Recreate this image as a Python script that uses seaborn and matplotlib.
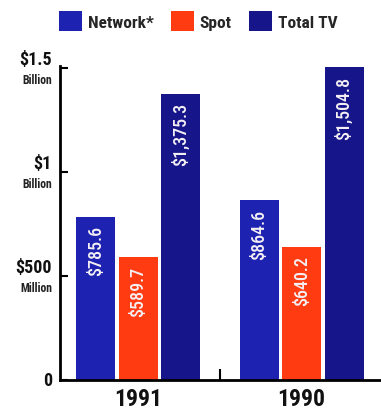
import matplotlib
matplotlib.use("Agg")
import matplotlib.pyplot as plt
import matplotlib.transforms as mtransforms
from matplotlib import font_manager
import seaborn as sns
import pandas as pd

years = ["1991", "1990"]
series = ["Network*", "Spot", "Total TV"]
network = [785.6, 864.6]
spot = [589.7, 640.2]
total = [1375.3, 1504.8]
value_labels = [["$785.6", "$589.7", "$1,375.3"], ["$864.6", "$640.2", "$1,504.8"]]
ytick_values = [0, 500, 1000, 1500]
ytick_main = ["0", "$500", "$1", "$1.5"]
ytick_sub = ["", "Million", "Billion", "Billion"]
colors = ["#1d22b0", "#ff3b12", "#16168a"]

rows = []
for i, y in enumerate(years):
    for s, vals in zip(series, [network, spot, total]):
        rows.append({"Year": y, "Series": s, "Value": vals[i]})
df = pd.DataFrame(rows)

sns.set_theme(style="white")
names = {f.name for f in font_manager.fontManager.ttflist}
FONT = ["DejaVu Sans"]
for cand in ["Liberation Sans Narrow", "Roboto Condensed", "Open Sans Condensed"]:
    if cand in names:
        FONT = [cand, "DejaVu Sans"]
        break
plt.rcParams["font.family"] = FONT
STRETCH = "condensed"

fig = plt.figure(figsize=(3.81, 4.10), dpi=100)
ax = fig.add_axes([60 / 381, 1 - 381 / 410, 320 / 381, 314 / 410])

sns.barplot(data=df, x="Year", y="Value", hue="Series", order=years,
            hue_order=series, palette=colors, width=0.78, gap=0.08,
            saturation=1, edgecolor="none", ax=ax, legend=True)

ax.set_xlim(-0.48, 1.48)
ax.set_ylim(0, 1510)
ax.set_xlabel("")
ax.set_ylabel("")

# value labels inside bars
for ci, cont in enumerate(ax.containers):
    for yi, bar in enumerate(cont):
        x = bar.get_x() + bar.get_width() / 2
        h = bar.get_height()
        ax.annotate(value_labels[yi][ci], (x, h), xytext=(0, -6),
                    textcoords="offset points", rotation=90, ha="center",
                    va="top", color="#f4f0f4", fontsize=13, fontweight="medium",
                    family=FONT, fontstretch=STRETCH)

# spines
for s in ["top", "right"]:
    ax.spines[s].set_visible(False)
for s in ["left", "bottom"]:
    ax.spines[s].set_color("black")
    ax.spines[s].set_linewidth(2)

ax.set_yticks(ytick_values)
ax.set_yticklabels([])
ax.tick_params(axis="y", direction="in", length=6, width=1.5, color="black", left=True)
trans = mtransforms.blended_transform_factory(ax.transAxes, ax.transData)
for v, m, sub in zip(ytick_values, ytick_main, ytick_sub):
    if sub:
        ax.text(-0.025, v, m, transform=trans, ha="right", va="bottom",
                fontsize=13, fontweight="bold", color="#111111", family=FONT,
                fontstretch=STRETCH)
        ax.text(-0.025, v - 22, sub, transform=trans, ha="right", va="top",
                fontsize=8.5, fontweight="bold", color="#222222", family=FONT,
                fontstretch=STRETCH)
    else:
        ax.text(-0.025, v, m, transform=trans, ha="right", va="center",
                fontsize=13, fontweight="bold", color="#111111", family=FONT,
                fontstretch=STRETCH)

ax.set_xticks([0, 1])
ax.set_xticklabels(years, fontsize=17, fontweight="bold", color="#111111",
                   fontstretch=STRETCH)
ax.tick_params(axis="x", length=0, pad=5)
ax.set_xticks([0.5], minor=True)
ax.tick_params(axis="x", which="minor", direction="in", length=8, width=1.5,
               color="black", bottom=True)

sns.move_legend(ax, "upper center", bbox_to_anchor=(0.52, 1.008),
                bbox_transform=fig.transFigure, ncol=3, frameon=False,
                title=None, handlelength=1.35, handleheight=1.35,
                handletextpad=0.3, columnspacing=1.0,
                prop={"weight": "bold", "size": 12.5, "family": FONT,
                      "stretch": STRETCH})

ax.set_facecolor("white")
fig.savefig("out.png", dpi=100)
